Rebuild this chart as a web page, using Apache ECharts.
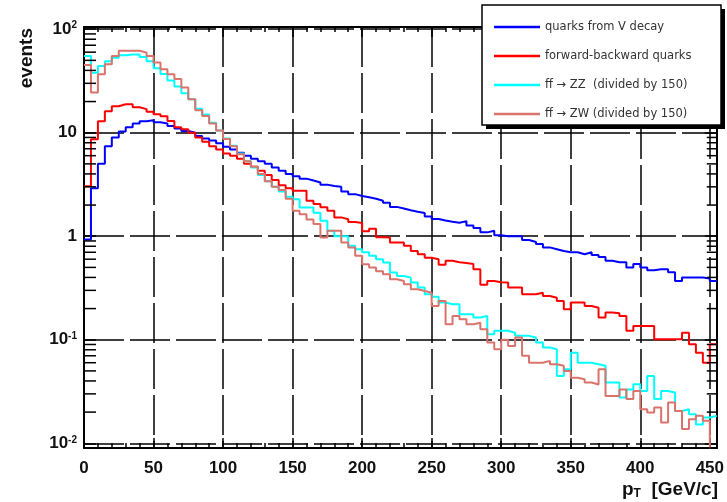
<!DOCTYPE html>
<html>
<head>
<meta charset="utf-8">
<script src="https://cdn.jsdelivr.net/npm/echarts@6/dist/echarts.min.js"></script>
<style>
  html, body { margin: 0; padding: 0; background: #fff; }
  #chart { width: 727px; height: 502px; }
</style>
</head>
<body>
<div id="chart"></div>
<script>
// histogram: 91 bins of 5 GeV, pT from 0 to 455
const binWidth = 5
const xMin = 0
const xMax = 455
const yMin = 0.009
const yMax = 105

const seriesNames = [
  'quarks from V decay',
  'forward-backward quarks',
  'ff \u2192 ZZ  (divided by 150)',
  'ff \u2192 ZW (divided by 150)'
]
const seriesColors = ['#0000ff', '#ff0000', '#00ffff', '#d9736b']

const quarksV = [
  0.93, 2.9, 5.0, 7.4, 9.0, 10.3, 11.3, 12.3, 12.9, 13.2,
  12.6, 12.3, 11.6, 11.0, 10.4, 10.0, 9.3, 8.8, 8.4, 7.9,
  7.3, 6.9, 6.4, 6.0, 5.6, 5.3, 5.0, 4.6, 4.3, 4.0,
  3.8, 3.6, 3.45, 3.3, 3.15, 3.05, 3.0, 2.7, 2.55, 2.45,
  2.38, 2.3, 2.2, 2.1, 1.92, 1.85, 1.78, 1.72, 1.68, 1.55,
  1.47, 1.42, 1.38, 1.35, 1.4, 1.27, 1.2, 1.09, 1.13, 1.02,
  1.0, 1.0, 1.0, 0.92, 0.88, 0.84, 0.78, 0.75, 0.72, 0.70,
  0.70, 0.67, 0.70, 0.66, 0.63, 0.58, 0.56, 0.56, 0.50, 0.54,
  0.50, 0.47, 0.48, 0.48, 0.45, 0.37, 0.40, 0.40, 0.40, 0.39,
  0.37
]
const quarksFB = [
  3.04, 8.65, 12.9, 16.1, 18.0, 18.8, 18.8, 17.6, 16.9, 15.9,
  15.1, 14.4, 13.0, 11.3, 10.8, 10.0, 9.0, 8.2, 7.4, 6.9,
  6.3, 6.0, 5.6, 5.0, 4.7, 4.3, 3.9, 3.5, 3.1, 2.9,
  2.75, 2.75, 2.2, 2.05, 1.9, 1.76, 1.52, 1.46, 1.37, 1.34,
  1.12, 1.18, 0.98, 0.97, 0.87, 0.87, 0.81, 0.72, 0.67, 0.62,
  0.60, 0.53, 0.58, 0.56, 0.55, 0.54, 0.48, 0.34, 0.37, 0.36,
  0.357, 0.32, 0.32, 0.275, 0.275, 0.285, 0.265, 0.255, 0.237, 0.197,
  0.229, 0.229, 0.212, 0.204, 0.164, 0.183, 0.18, 0.17, 0.122, 0.136,
  0.136, 0.136, 0.101, 0.101, 0.101, 0.101, 0.117, 0.0905, 0.075, 0.06,
  0.0905
]
const ffZZ = [
  55, 38, 44, 49, 53, 56, 57, 57, 54, 49,
  42, 37, 32, 28, 24, 21, 17, 15, 12.5, 10.5,
  8.8, 7.5, 6.3, 5.3, 4.6, 3.9, 3.4, 3.0, 2.7, 2.4,
  2.28, 1.89, 1.89, 1.69, 1.41, 1.13, 1.0, 1.0, 0.81, 0.75,
  0.70, 0.646, 0.6, 0.557, 0.446, 0.413, 0.398, 0.357, 0.319, 0.275,
  0.26, 0.229, 0.22, 0.22, 0.176, 0.176, 0.164, 0.17, 0.113, 0.122,
  0.122, 0.117, 0.109, 0.109, 0.105, 0.094, 0.084, 0.081, 0.0446, 0.052,
  0.075, 0.06, 0.06, 0.058, 0.056, 0.0386, 0.0386, 0.0277, 0.033, 0.0372,
  0.032, 0.0446, 0.0267, 0.032, 0.0309, 0.0205, 0.0213, 0.0191, 0.0152, 0.0177,
  0.0184
]
const ffZW = [
  45, 24.4, 36.7, 45.9, 55, 61.8, 61.8, 61.8, 59.4, 55,
  47.8, 41, 36.7, 33, 27.3, 21, 16.5, 14.5, 12.3, 10.5,
  8.7, 7.4, 6.2, 5.3, 4.7, 4.0, 3.4, 3.0, 2.8, 2.3,
  1.76, 1.63, 1.45, 1.31, 0.97, 1.13, 1.13, 0.87, 0.78, 0.646,
  0.536, 0.5, 0.46, 0.43, 0.384, 0.37, 0.344, 0.308, 0.296, 0.285,
  0.212, 0.237, 0.141, 0.17, 0.158, 0.141, 0.146, 0.126, 0.094, 0.081,
  0.1, 0.087, 0.105, 0.0699, 0.06, 0.06, 0.0625, 0.058, 0.056, 0.05,
  0.043, 0.0415, 0.0386, 0.037, 0.052, 0.0286, 0.0286, 0.033, 0.0267, 0.032,
  0.0213, 0.0198, 0.0222, 0.0159, 0.0247, 0.0205, 0.0137, 0.0171, 0.0184, 0.0165,
  0.001
]
const seriesValues = [quarksV, quarksFB, ffZZ, ffZW]

// minor ticks of the log axis (2..9 per decade)
const yMinorTicks = []
for (let e = -3; e <= 2; e++) {
  for (let d = 2; d <= 9; d++) {
    const v = d * Math.pow(10, e)
    if (v > yMin && v < yMax) yMinorTicks.push(v)
  }
}

function toSteps(vals) {
  const pts = vals.map((v, i) => [i * binWidth, v])
  pts.push([vals.length * binWidth, vals[vals.length - 1]])
  return pts
}

function logLabel(v) {
  const l = Math.log10(v)
  const e = Math.round(l)
  if (Math.abs(l - e) > 1e-6) return ''
  if (e === 0) return '1'
  if (e === 1) return '10'
  return '10{sup|' + e + '}'
}

const labelFont = {
  fontFamily: 'Liberation Sans',
  fontWeight: 'bold',
  fontSize: 17,
  color: '#111'
}
const gridDash = { color: '#000', width: 1.5, type: [40, 6] }

const chart = echarts.init(document.getElementById('chart'))

const lineSeries = seriesNames.map((name, k) => ({
  name: name,
  type: 'line',
  step: 'end',
  data: toSteps(seriesValues[k]),
  showSymbol: false,
  symbol: 'none',
  clip: true,
  silent: true,
  lineStyle: { color: seriesColors[k], width: 2 },
  itemStyle: { color: seriesColors[k] },
  z: 3
}))

chart.setOption({
  animation: false,
  backgroundColor: '#fff',
  grid: { left: 84, right: 10, top: 27, bottom: 54 },
  xAxis: [{
    type: 'value',
    min: xMin,
    max: xMax,
    interval: 50,
    axisLine: { lineStyle: { color: '#000', width: 2 } },
    axisTick: { inside: true, length: 10, lineStyle: { color: '#000', width: 1.5 } },
    minorTick: { show: true, splitNumber: 5, length: 5, lineStyle: { color: '#000', width: 1.5 } },
    axisLabel: Object.assign({
      margin: 12,
      formatter: v => (v % 50 === 0 ? String(v) : '')
    }, labelFont),
    splitLine: { show: true, lineStyle: gridDash }
  }, {
    type: 'value',
    position: 'top',
    min: xMin,
    max: xMax,
    interval: 50,
    axisLine: { lineStyle: { color: '#000', width: 2 } },
    axisTick: { inside: true, length: 10, lineStyle: { color: '#000', width: 1.5 } },
    minorTick: { show: true, splitNumber: 5, length: 5, lineStyle: { color: '#000', width: 1.5 } },
    axisLabel: { show: false },
    splitLine: { show: false }
  }],
  yAxis: [{
    type: 'log',
    logBase: 10,
    min: yMin,
    max: yMax,
    axisLine: { onZero: false, lineStyle: { color: '#000', width: 2 } },
    axisTick: { inside: true, length: 12, lineStyle: { color: '#000', width: 1.5 } },
    axisLabel: Object.assign({
      margin: 7,
      formatter: logLabel,
      rich: {
        sup: { fontFamily: 'Liberation Sans', fontWeight: 'bold', fontSize: 10, color: '#111', verticalAlign: 'top', lineHeight: 10 }
      }
    }, labelFont),
    splitLine: { show: true, lineStyle: gridDash }
  }, {
    type: 'log',
    logBase: 10,
    position: 'right',
    min: yMin,
    max: yMax,
    axisLine: { onZero: false, lineStyle: { color: '#000', width: 2 } },
    axisTick: { inside: true, length: 12, lineStyle: { color: '#000', width: 1.5 } },
    axisLabel: { show: false },
    splitLine: { show: false }
  }],
  legend: {
    data: seriesNames,
    orient: 'vertical',
    left: 489,
    top: 15,
    icon: 'rect',
    itemWidth: 46,
    itemHeight: 2.5,
    itemGap: 15,
    selectedMode: false,
    textStyle: { fontFamily: 'DejaVu Sans', fontSize: 11.5, color: '#333', lineHeight: 14 },
    z: 10
  },
  graphic: [
    { type: 'rect', z: 5, shape: { x: 486, y: 9, width: 239, height: 120 }, style: { fill: '#000' } },
    { type: 'rect', z: 6, shape: { x: 482, y: 5, width: 239, height: 120 }, style: { fill: '#fff', stroke: '#000', lineWidth: 1.5 } },
    {
      type: 'text', x: 27, y: 28, rotation: Math.PI / 2,
      style: { text: 'events', fontFamily: 'Liberation Sans', fontWeight: 'bold', fontSize: 19, fill: '#111', align: 'right', verticalAlign: 'middle' }
    },
    {
      type: 'text', x: 718, y: 490,
      style: {
        text: 'p{sub|T}  [GeV/c]', fontFamily: 'Liberation Sans', fontWeight: 'bold', fontSize: 19, fill: '#111',
        align: 'right', verticalAlign: 'middle',
        rich: { sub: { fontFamily: 'Liberation Sans', fontWeight: 'bold', fontSize: 12, fill: '#111', verticalAlign: 'bottom', lineHeight: 12 } }
      }
    }
  ],
  series: lineSeries.concat([{
    type: 'custom',
    name: 'minorTicks',
    silent: true,
    z: 4,
    data: yMinorTicks.map(v => [xMin, v]),
    renderItem: function (params, api) {
      const v = api.value(1)
      const pl = api.coord([xMin, v])
      const pr = api.coord([xMax, v])
      return {
        type: 'group',
        children: [
          { type: 'line', shape: { x1: pl[0], y1: pl[1], x2: pl[0] + 12, y2: pl[1] }, style: { stroke: '#000', lineWidth: 1.5 } },
          { type: 'line', shape: { x1: pr[0] - 10, y1: pr[1], x2: pr[0], y2: pr[1] }, style: { stroke: '#000', lineWidth: 1.5 } }
        ]
      }
    }
  }])
})
</script>
</body>
</html>
